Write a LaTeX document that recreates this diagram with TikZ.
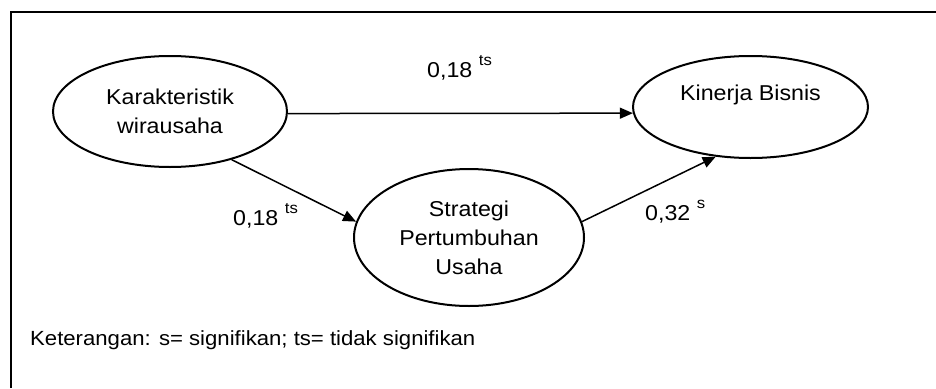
\documentclass[tikz,border=0pt]{standalone}
\usepackage{fontspec}
\setmainfont[FakeStretch=1.08]{Liberation Sans}
\usetikzlibrary{arrows.meta,shapes.geometric}
% raised significance mark after a path coefficient
\newcommand\sigmark[1]{\raisebox{11.5pt}{\fontsize{15.5}{15.5}\selectfont #1}}
\begin{document}
\begin{tikzpicture}[x=1pt,y=-1pt,
  txt/.style={font=\fontsize{21.5}{29}\selectfont},
  latent/.style={ellipse, draw, line width=2pt, inner sep=0pt, align=center, txt},
  pathline/.style={line width=1.5pt, -{Triangle[length=13pt,width=11pt]}},
  coef/.style={anchor=base west, inner sep=0pt, txt},
]
\useasboundingbox (0,0) rectangle (936,388);
% open frame: left and top edges
\draw[line width=2pt] (10.5,388) -- (10.5,12) -- (936,12);

% constructs
\node[latent, minimum width=234pt, minimum height=111pt] (karak) at (170,111.5) {Karakteristik\\wirausaha};
\node[latent, minimum width=235pt, minimum height=102pt] (kin) at (750.5,107) {Kinerja Bisnis\\\mbox{}};
\node[latent, minimum width=230pt, minimum height=137pt] (strat) at (469,237.5) {Strategi\\Pertumbuhan\\Usaha};

% paths
\draw[pathline] (karak.-1) -- (kin.183);
\draw[pathline] (karak.-38) -- (strat.172);
\draw[pathline] (strat.8) -- (kin.-125);

% coefficients
\node[coef] (c1) at (427,77) {0,18 \sigmark{ts}};
\node[coef] (c2) at (233,225) {0,18 \sigmark{ts}};
\node[coef] (c3) at (645,220) {0,32 \sigmark{s}};

% legend
\node[anchor=base west, inner sep=0pt, font=\fontsize{20.5}{26}\selectfont] (note) at (30,345.7) {Keterangan: s= signifikan; ts= tidak signifikan};
\end{tikzpicture}
\end{document}
